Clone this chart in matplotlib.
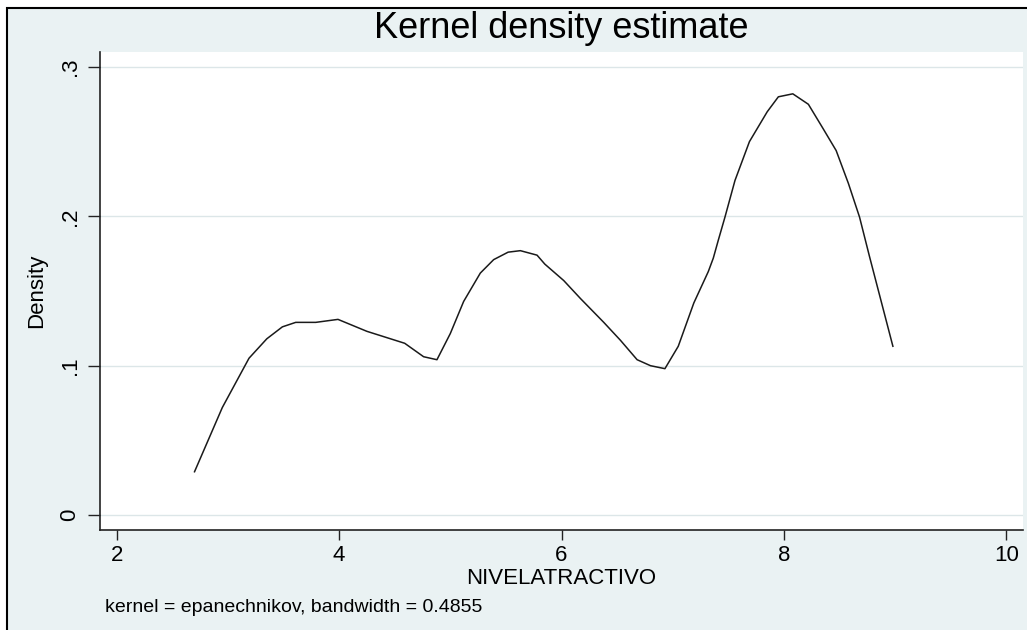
import matplotlib
matplotlib.use("Agg")
import matplotlib.pyplot as plt
from matplotlib.patches import Rectangle

plt.rcParams['font.family'] = ['Liberation Sans', 'DejaVu Sans']

# density curve
nivel = [2.70, 2.95, 3.19, 3.35, 3.49, 3.61, 3.79, 3.99, 4.25, 4.59, 4.76, 4.88,
         5.00, 5.12, 5.27, 5.39, 5.52, 5.63, 5.78, 5.85, 6.02, 6.17, 6.38, 6.53,
         6.68, 6.80, 6.93, 7.05, 7.19, 7.32, 7.365, 7.41, 7.47, 7.56, 7.69, 7.85,
         7.95, 8.08, 8.22, 8.35, 8.47, 8.58, 8.68, 8.77, 8.98]
density = [0.029, 0.072, 0.105, 0.118, 0.126, 0.129, 0.129, 0.131, 0.123, 0.115,
           0.106, 0.104, 0.1215, 0.143, 0.162, 0.171, 0.176, 0.177, 0.174, 0.168,
           0.157, 0.145, 0.129, 0.117, 0.104, 0.100, 0.098, 0.113, 0.142, 0.163,
           0.172, 0.184, 0.1995, 0.224, 0.250, 0.270, 0.280, 0.282, 0.275, 0.259,
           0.244, 0.222, 0.1995, 0.173, 0.113]

xticks = [2, 4, 6, 8, 10]
xticklabels = ['2', '4', '6', '8', '10']
yticks = [0, 0.1, 0.2, 0.3]
yticklabels = ['0', '.1', '.2', '.3']

bg = '#EAF2F3'
W, H = 1027, 630

fig = plt.figure(figsize=(W / 100, H / 100), dpi=100)
fig.patch.set_facecolor('white')

# outer graph region with black frame (left and top edges visible)
frame = Rectangle((7 / W, -0.05), 1.05, 1 - 8 / H + 0.05,
                  transform=fig.transFigure, facecolor=bg,
                  edgecolor='black', linewidth=1.5, zorder=-5)
fig.add_artist(frame)

ax = fig.add_axes([100 / W, 1 - 530 / H, 923 / W, 478 / H])
ax.set_zorder(2)
ax.set_facecolor('white')
ax.plot(nivel, density, color='#1a1a1a', lw=1.1)

ax.set_xlim(1.85, 10.15)
ax.set_ylim(-0.010, 0.3100)
ax.set_xticks(xticks)
ax.set_xticklabels(xticklabels, fontsize=16)
ax.set_yticks(yticks)
ax.set_yticklabels(yticklabels, fontsize=16, rotation=90, va='center')
ax.grid(axis='y', color='#DCE6E8', lw=1.0)
ax.set_axisbelow(True)

for s in ['top', 'right']:
    ax.spines[s].set_visible(False)
for s in ['left', 'bottom']:
    ax.spines[s].set_color('#222222')
    ax.spines[s].set_linewidth(1.2)
ax.tick_params(axis='y', length=9, width=1, pad=5, color='#222222')
ax.tick_params(axis='x', length=7, width=1, pad=4, color='#222222')

ax.set_ylabel('Density', fontsize=16, labelpad=9)
ax.set_xlabel('NIVELATRACTIVO', fontsize=16, labelpad=1)

fig.text(561 / W, 1 - 29 / H, 'Kernel density estimate', fontsize=26,
         ha='center', va='center')
fig.text(105 / W, 1 - 607 / H, 'kernel = epanechnikov, bandwidth = 0.4855',
         fontsize=14, ha='left', va='center')

fig.savefig('out.png', dpi=100)
